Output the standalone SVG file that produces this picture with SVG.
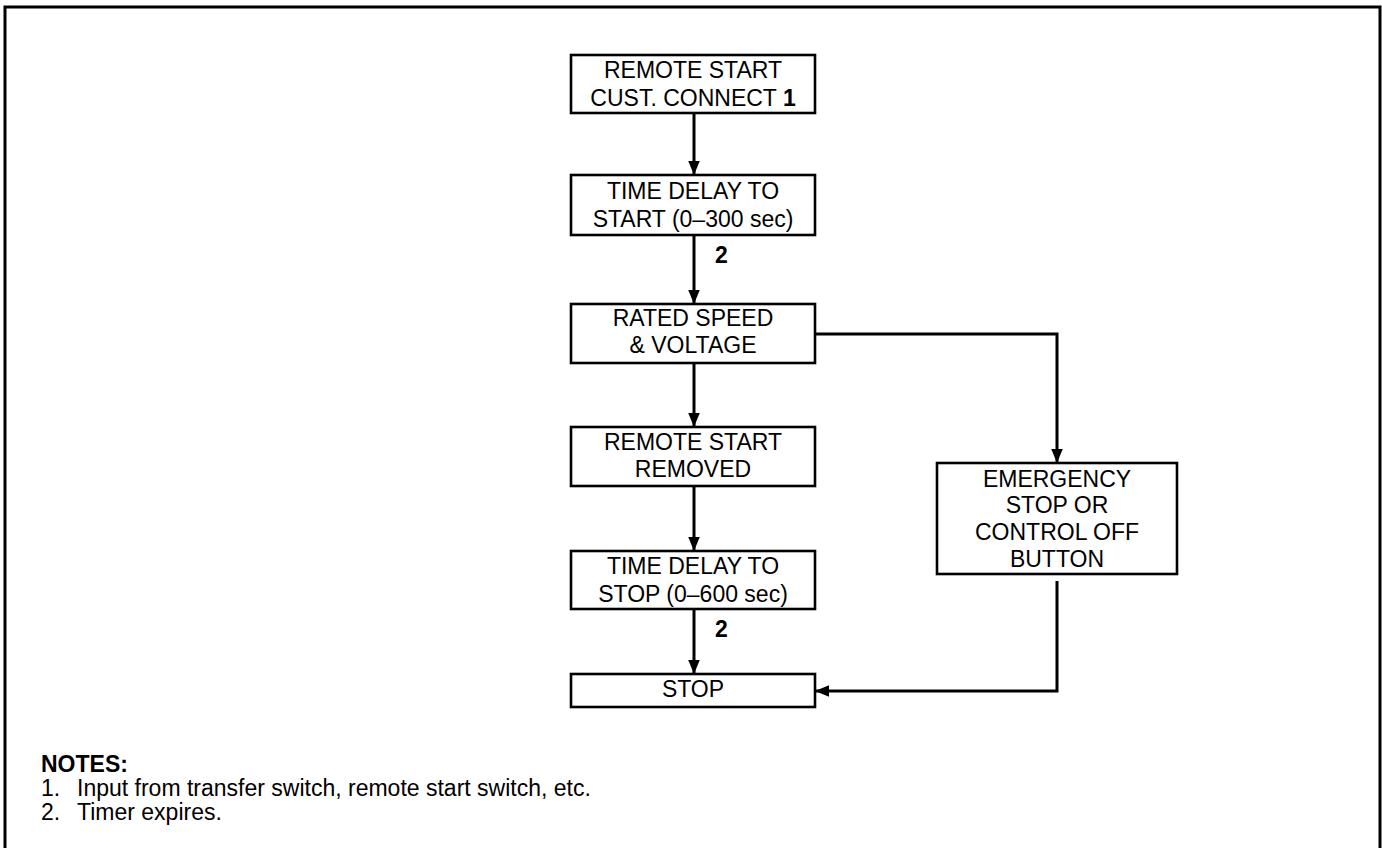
<svg xmlns="http://www.w3.org/2000/svg" width="1382" height="848" viewBox="0 0 1382 848">
<style>
.box{fill:#fff;stroke:#000;stroke-width:2.6}
.t{font-family:"Liberation Sans",Arial,sans-serif;font-size:23px;fill:#000;text-anchor:middle}
.n{font-family:"Liberation Sans",Arial,sans-serif;font-size:23px;fill:#000}
.b{font-weight:bold}
.c{fill:none;stroke:#000;stroke-width:3}
</style>
<defs>
<marker id="ah" markerUnits="userSpaceOnUse" markerWidth="14" markerHeight="18" refX="17" refY="7" viewBox="0 0 17 14" orient="auto">
<path d="M0,0 L17,7 L0,14 Z" fill="#000"/>
</marker>
</defs>
<rect width="1382" height="848" fill="#fff"/>
<path d="M5,849 V7 H1380 V849" fill="none" stroke="#000" stroke-width="3"/>

<g id="connectors">
<line class="c" x1="694" y1="113" x2="694" y2="175" marker-end="url(#ah)"/>
<line class="c" x1="694" y1="235" x2="694" y2="304" marker-end="url(#ah)"/>
<line class="c" x1="694" y1="363" x2="694" y2="427" marker-end="url(#ah)"/>
<line class="c" x1="694" y1="486" x2="694" y2="551" marker-end="url(#ah)"/>
<line class="c" x1="694" y1="609" x2="694" y2="674" marker-end="url(#ah)"/>
<polyline class="c" points="815,334 1057,334 1057,463" marker-end="url(#ah)"/>
<polyline class="c" points="1057,581 1057,691 815,691" marker-end="url(#ah)"/>
<text class="n b" x="715" y="263">2</text>
<text class="n b" x="715" y="637">2</text>
</g>

<g id="n1">
<rect class="box" x="571" y="55" width="244" height="58"/>
<text class="t" x="693" y="78">REMOTE START</text>
<text class="t" x="693" y="106">CUST. CONNECT <tspan class="b">1</tspan></text>
</g>
<g id="n2">
<rect class="box" x="571" y="175" width="244" height="60"/>
<text class="t" x="693" y="199">TIME DELAY TO</text>
<text class="t" x="693" y="227">START (0–300 sec)</text>
</g>
<g id="n3">
<rect class="box" x="571" y="304" width="244" height="59"/>
<text class="t" x="693" y="326">RATED SPEED</text>
<text class="t" x="693" y="353">&amp; VOLTAGE</text>
</g>
<g id="n4">
<rect class="box" x="571" y="427" width="244" height="59"/>
<text class="t" x="693" y="450">REMOTE START</text>
<text class="t" x="693" y="477">REMOVED</text>
</g>
<g id="n5">
<rect class="box" x="571" y="551" width="244" height="58"/>
<text class="t" x="693" y="574">TIME DELAY TO</text>
<text class="t" x="693" y="602">STOP (0–600 sec)</text>
</g>
<g id="n6">
<rect class="box" x="571" y="674" width="244" height="33"/>
<text class="t" x="693" y="697">STOP</text>
</g>
<g id="n7">
<rect class="box" x="937" y="463" width="240" height="111"/>
<text class="t" x="1057" y="487">EMERGENCY</text>
<text class="t" x="1057" y="513">STOP OR</text>
<text class="t" x="1057" y="540">CONTROL OFF</text>
<text class="t" x="1057" y="567">BUTTON</text>
</g>

<g id="notes">
<text class="n b" x="41" y="772">NOTES:</text>
<text class="n" x="41" y="796">1.</text>
<text class="n" x="77" y="796">Input from transfer switch, remote start switch, etc.</text>
<text class="n" x="41" y="820">2.</text>
<text class="n" x="77" y="820">Timer expires.</text>
</g>
</svg>
